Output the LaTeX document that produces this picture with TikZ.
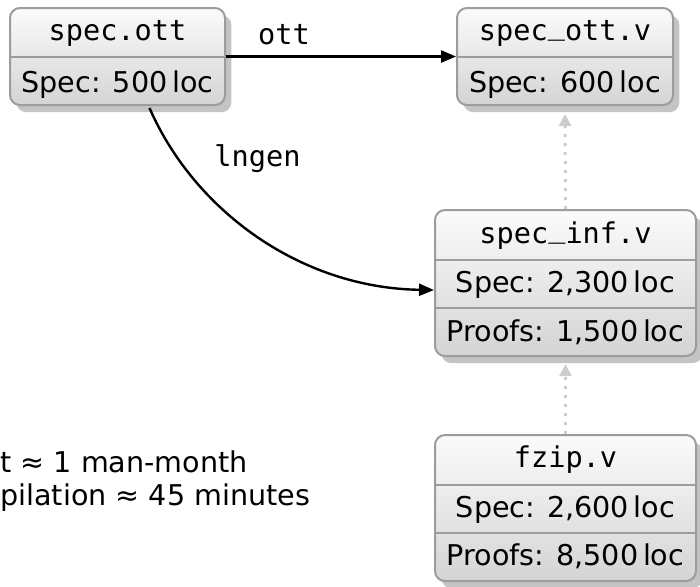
\documentclass[tikz,border=0pt]{standalone}
\usepackage{fontspec}
\setmainfont{DejaVu Sans}
\setmonofont{DejaVu Sans Mono}
\usetikzlibrary{arrows.meta,shadows}
\definecolor{boxborder}{HTML}{9C9C9C}
\definecolor{boxbottom}{HTML}{D4D4D4}
\definecolor{boxtop}{HTML}{FBFBFB}
\definecolor{boxshadow}{HTML}{C4C4C4}
\definecolor{dotgray}{HTML}{CDCDCD}
\newcommand{\usc}{\raisebox{0.2em}{\string_}}
\begin{document}
\begin{tikzpicture}[x=0.5pt,y=-0.5pt,
  box/.style={draw=boxborder, line width=1pt, rounded corners=5pt,
    top color=boxtop, bottom color=boxbottom, inner sep=0pt,
    drop shadow={shadow xshift=3.2pt, shadow yshift=-3.6pt, fill=boxshadow, opacity=1}},
  divider/.style={draw=boxborder, line width=1pt},
  mono/.style={font=\fontsize{14.3}{17}\selectfont\ttfamily, inner sep=0pt, anchor=base},
  sans/.style={font=\fontsize{14.3}{17}\selectfont, inner sep=0pt, anchor=base},
  conn/.style={draw=black, line width=1.2pt, -{Triangle[length=7.5pt,width=6pt]}},
  dep/.style={draw=dotgray, line width=1.5pt, dash pattern=on 1.5pt off 3pt,
    -{Triangle[length=6pt,width=6pt]}},
]
\useasboundingbox (0,0) rectangle (700,586);

% boxes
\node[box, minimum width=107.5pt, minimum height=48.5pt] (b1) at (117.5,56.5) {};
\node[box, minimum width=108pt, minimum height=48.5pt] (b2) at (565,56.5) {};
\node[box, minimum width=130.5pt, minimum height=73pt] (b3) at (565.5,283) {};
\node[box, minimum width=130.5pt, minimum height=73pt] (b4) at (565.5,508) {};

% dividers
\draw[divider] (b1.west) -- (b1.east);
\draw[divider] (b2.west) -- (b2.east);
\draw[divider] (b3.west |- 0,259.5) -- (b3.east |- 0,259.5);
\draw[divider] (b3.west |- 0,308) -- (b3.east |- 0,308);
\draw[divider] (b4.west |- 0,484.5) -- (b4.east |- 0,484.5);
\draw[divider] (b4.west |- 0,533) -- (b4.east |- 0,533);

% texts
\node[mono] (t1a) at (117.5,40.5) {spec.ott};
\node[sans] (t1b) at (117.5,92) {Spec: 500\,loc};
\node[mono] (t2a) at (565,40.5) {spec\usc ott.v};
\node[sans] (t2b) at (565,92) {Spec: 600\,loc};
\node[mono] (t3a) at (565.5,243) {spec\usc inf.v};
\node[sans] (t3b) at (565.5,292.5) {Spec: 2,300\,loc};
\node[sans] (t3c) at (565.5,341.5) {Proofs: 1,500\,loc};
\node[mono] (t4a) at (565.5,467.5) {fzip.v};
\node[sans] (t4b) at (565.5,517) {Spec: 2,600\,loc};
\node[sans] (t4c) at (565.5,565.5) {Proofs: 8,500\,loc};

% connectors
\draw[conn] (b1.east) -- (b2.west);
\node[mono] (lott) at (284,44) {ott};
\draw[conn] ([xshift=16pt,yshift=-1pt]b1.south)
  .. controls +(45,103) and +(-133,-2) .. ([yshift=-3.5pt]b3.west);
\node[mono] (llngen) at (257.5,166) {lngen};

\draw[dep] (b3.north) -- ([yshift=-4pt]b2.south);
\draw[dep] (b4.north) -- ([yshift=-3.6pt]b3.south);

% notes
\node[sans, anchor=base west] (n1) at (0,472) {t ≈ 1 man-month};
\node[sans, anchor=base west] (n2) at (0,505) {pilation ≈ 45 minutes};
\end{tikzpicture}
\end{document}
